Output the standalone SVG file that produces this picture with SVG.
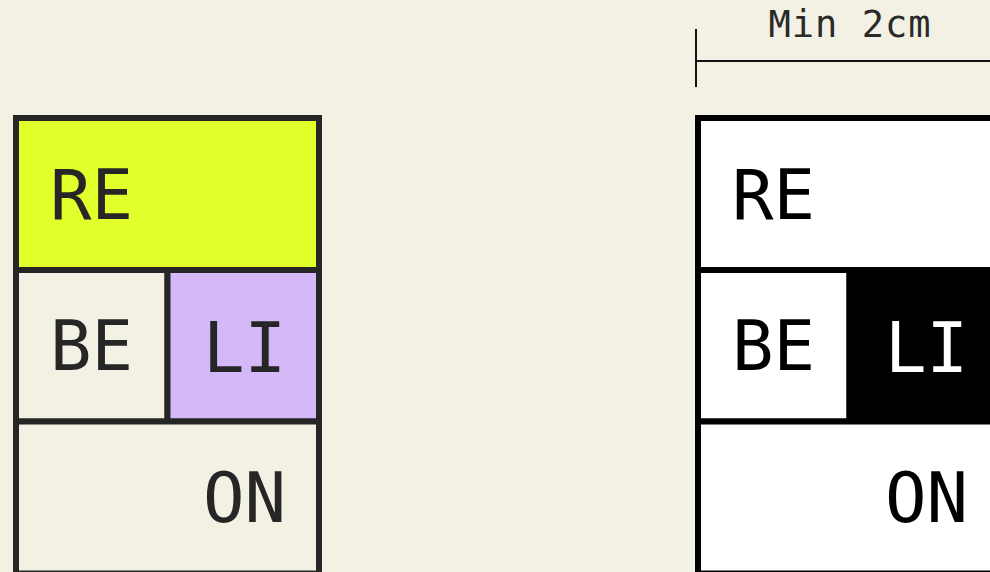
<svg xmlns="http://www.w3.org/2000/svg" width="990" height="572" viewBox="0 0 990 572">
<style>
.lbl{font-family:"DejaVu Sans Mono","Liberation Mono",monospace;font-size:69px;}
.dim{font-family:"DejaVu Sans Mono","Liberation Mono",monospace;font-size:37px;fill:#2a2a2a;}
</style>
<rect width="990" height="572" fill="#F3F1E4"/>
<g id="left-block">
  <g id="left-RE">
    <rect x="16" y="118" width="303" height="152" fill="#E2FF2B" stroke="#262626" stroke-width="6"/>
    <text class="lbl" x="50" y="219" fill="#262626">RE</text>
  </g>
  <g id="left-BE">
    <rect x="16" y="270" width="151.5" height="151.5" fill="#F3F1E4" stroke="#262626" stroke-width="6"/>
    <text class="lbl" x="50" y="370" fill="#262626">BE</text>
  </g>
  <g id="left-LI">
    <rect x="167.5" y="270" width="151.5" height="151.5" fill="#D4B8F8" stroke="#262626" stroke-width="6"/>
    <text class="lbl" x="286" y="372" text-anchor="end" fill="#262626">LI</text>
  </g>
  <g id="left-ON">
    <rect x="16" y="421.5" width="303" height="152" fill="#F3F1E4" stroke="#262626" stroke-width="6"/>
    <text class="lbl" x="286" y="522" text-anchor="end" fill="#262626">ON</text>
  </g>
</g>
<g id="right-block">
  <g id="right-RE">
    <rect x="698" y="118" width="303" height="152" fill="#FFFFFF" stroke="#000" stroke-width="6"/>
    <text class="lbl" x="732" y="219" fill="#000">RE</text>
  </g>
  <g id="right-BE">
    <rect x="698" y="270" width="151.5" height="151.5" fill="#FFFFFF" stroke="#000" stroke-width="6"/>
    <text class="lbl" x="732" y="370" fill="#000">BE</text>
  </g>
  <g id="right-LI">
    <rect x="849.5" y="270" width="151.5" height="151.5" fill="#000" stroke="#000" stroke-width="6"/>
    <text class="lbl" x="968" y="372" text-anchor="end" fill="#FFFFFF">LI</text>
  </g>
  <g id="right-ON">
    <rect x="698" y="421.5" width="303" height="152" fill="#FFFFFF" stroke="#000" stroke-width="6"/>
    <text class="lbl" x="968" y="522" text-anchor="end" fill="#000">ON</text>
  </g>
</g>
<g id="dimension">
  <line x1="696" y1="29" x2="696" y2="87" stroke="#111" stroke-width="2"/>
  <line x1="695" y1="61" x2="1004" y2="61" stroke="#111" stroke-width="2"/>
  <text class="dim" x="850" y="37" text-anchor="middle" letter-spacing="1">Min 2cm</text>
</g>
</svg>
